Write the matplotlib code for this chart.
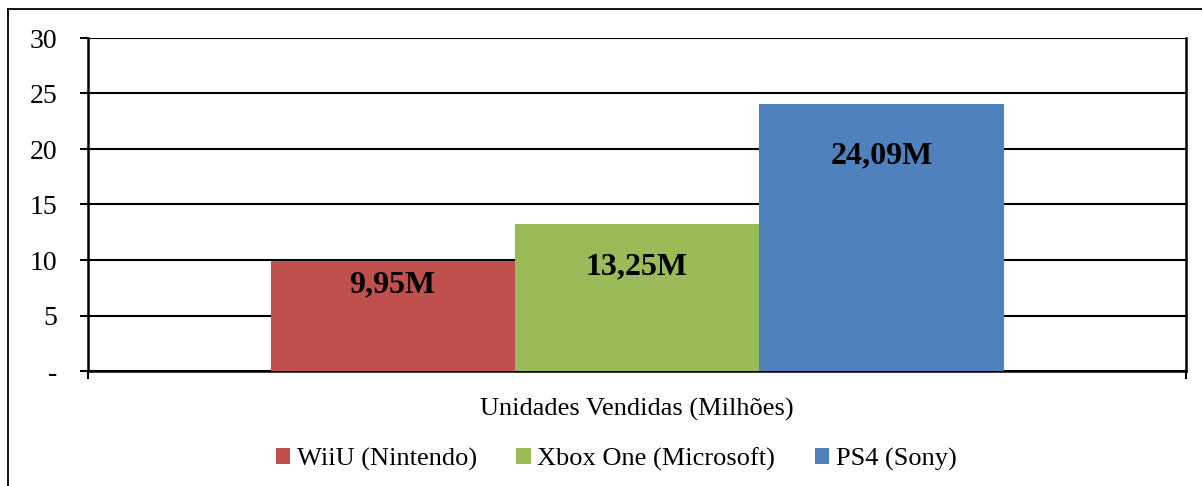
import matplotlib.pyplot as plt
from matplotlib.lines import Line2D

plt.rcParams['font.family'] = ['Liberation Serif', 'DejaVu Serif']

consoles = ['WiiU (Nintendo)', 'Xbox One (Microsoft)', 'PS4 (Sony)']
vendas = [9.95, 13.25, 24.09]
rotulos = ['9,95M', '13,25M', '24,09M']
cores = ['#C0504D', '#9BBB59', '#4F81BD']
yticks = [0, 5, 10, 15, 20, 25, 30]
ytick_labels = ['-', '5', '10', '15', '20', '25', '30']
desloc = [-24, -43, -52]  # distância do rótulo abaixo do topo da barra (px)

W, H = 1202, 486
fig = plt.figure(figsize=(W / 100, H / 100), dpi=100)
ax = fig.add_axes([88 / W, 1 - 371 / H, (1186 - 88) / W, (371 - 38) / H])

largura = 733 / 1098 / 3
for i, (nome, v, r, c) in enumerate(zip(consoles, vendas, rotulos, cores)):
    x = (i - 1) * largura
    ax.bar(x, v, width=largura, color=c, label=nome, zorder=3)
    ax.annotate(r, (x, v), xytext=(0, desloc[i]), textcoords='offset pixels',
                ha='center', va='center', fontsize=23, fontweight='bold', zorder=4)

ax.set_xlim(-0.5, 0.5)
ax.set_ylim(0, 30)
ax.set_yticks(yticks)
ax.set_yticklabels(ytick_labels, fontsize=20)
ax.set_xticks([-0.5, 0.5])
ax.set_xticklabels(['', ''])
ax.tick_params(axis='y', direction='out', length=6, width=1.5, pad=16)
ax.tick_params(axis='x', direction='out', length=6, width=1.5)
ax.yaxis.grid(True, color='black', linewidth=1.5, zorder=0)
ax.set_axisbelow(True)
for s in ['left', 'right', 'bottom']:
    ax.spines[s].set_linewidth(1.8)
    ax.spines[s].set_color('black')
ax.spines['top'].set_visible(False)

ax.set_xlabel('Unidades Vendidas (Milhões)', fontsize=19, labelpad=10)

leg = ax.legend(loc='center', bbox_to_anchor=(0.481, (371 - 459) / (371 - 38)),
                ncol=3, frameon=False, fontsize=19, handlelength=0.55,
                handleheight=0.55, handletextpad=0.25, columnspacing=1.5)

# moldura externa
fig.add_artist(Line2D([8 / W, 8 / W], [0, 1 - 9 / H], color='black', linewidth=1.3,
                      transform=fig.transFigure))
fig.add_artist(Line2D([8 / W, 1], [1 - 9 / H, 1 - 9 / H], color='black', linewidth=1.3,
                      transform=fig.transFigure))

fig.savefig('out.png', dpi=100)
